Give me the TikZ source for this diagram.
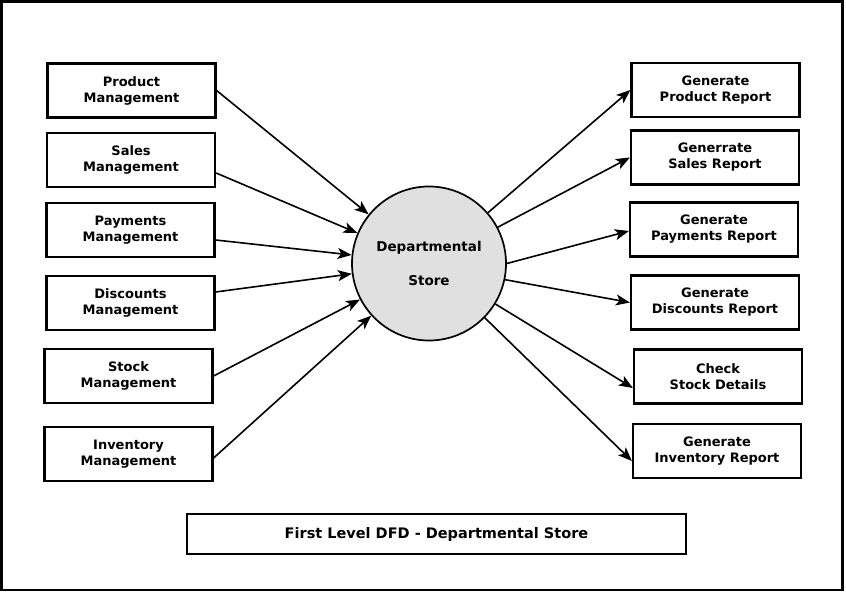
\documentclass[tikz,border=0pt]{standalone}
\usepackage{fontspec}
\setmainfont{DejaVu Sans}
\usetikzlibrary{arrows.meta}
\definecolor{procgray}{RGB}{224,224,224}

\begin{document}
\begin{tikzpicture}[x=1pt, y=-1pt, every node/.style={align=center, font=\bfseries\fontsize{13}{16}\selectfont}, box/.style={draw, line width=2.2pt, minimum width=168pt, minimum height=54pt, inner sep=0pt}, flow/.style={line width=1.6pt, -{Stealth[length=14pt, width=11pt, inset=3.5pt]}}]
			\useasboundingbox (0,0) rectangle (846,593);
			\draw[line width=2.4pt] (1.5,1.5) rectangle (842.5,590);
			\node[circle, draw, fill=procgray, line width=1.7pt, minimum size=154pt, inner sep=0pt, font=\bfseries\fontsize{13.5}{16}\selectfont] (store) at (429,263.5) {Departmental\\[18pt]Store};
			\node[box] (prodmgmt) at (131.5,90.5) {Product\\Management};
			\node[box] (salesmgmt) at (131,160) {Sales\\Management};
			\node[box] (paymgmt) at (130.5,230) {Payments\\Management};
			\node[box] (discmgmt) at (130.5,303) {Discounts\\Management};
			\node[box] (stockmgmt) at (128.5,376) {Stock\\Management};
			\node[box] (invmgmt) at (128.5,454) {Inventory\\Management};
			\node[box] (prodrep) at (715.5,90) {Generate\\Product Report};
			\node[box] (salesrep) at (715,157.5) {Generrate\\Sales Report};
			\node[box] (payrep) at (714,229.5) {Generate\\Payments Report};
			\node[box] (discrep) at (715,302.5) {Generate\\Discounts Report};
			\node[box] (stockdet) at (718,376.5) {Check\\Stock Details};
			\node[box] (invrep) at (717,451) {Generate\\Inventory Report};
			\node[draw, line width=2.2pt, minimum width=499pt, minimum height=40pt, font=\bfseries\fontsize{14.5}{17}\selectfont] (title) at (436.5,534) {First Level DFD - Departmental Store};
			\draw[flow] (prodmgmt.east) -- (store);
			\draw[flow] ([yshift=-13pt]salesmgmt.east) -- (store);
			\draw[flow] ([yshift=-10pt]paymgmt.east) -- (store);
			\draw[flow] ([yshift=11pt]discmgmt.east) -- (store);
			\draw[flow] (stockmgmt.east) -- (store);
			\draw[flow] ([yshift=-4pt]invmgmt.east) -- (store);
			\draw[flow] (store) -- (prodrep.west);
			\draw[flow] (store) -- (salesrep.west);
			\draw[flow] (store.east) -- ([yshift=-1.5pt]payrep.west);
			\draw[flow] (store.-12) -- (discrep.west);
			\draw[flow] (store) -- ([yshift=-11.5pt]stockdet.west);
			\draw[flow] (store) -- ([yshift=-10pt]invrep.west);
		\end{tikzpicture}
\end{document}
